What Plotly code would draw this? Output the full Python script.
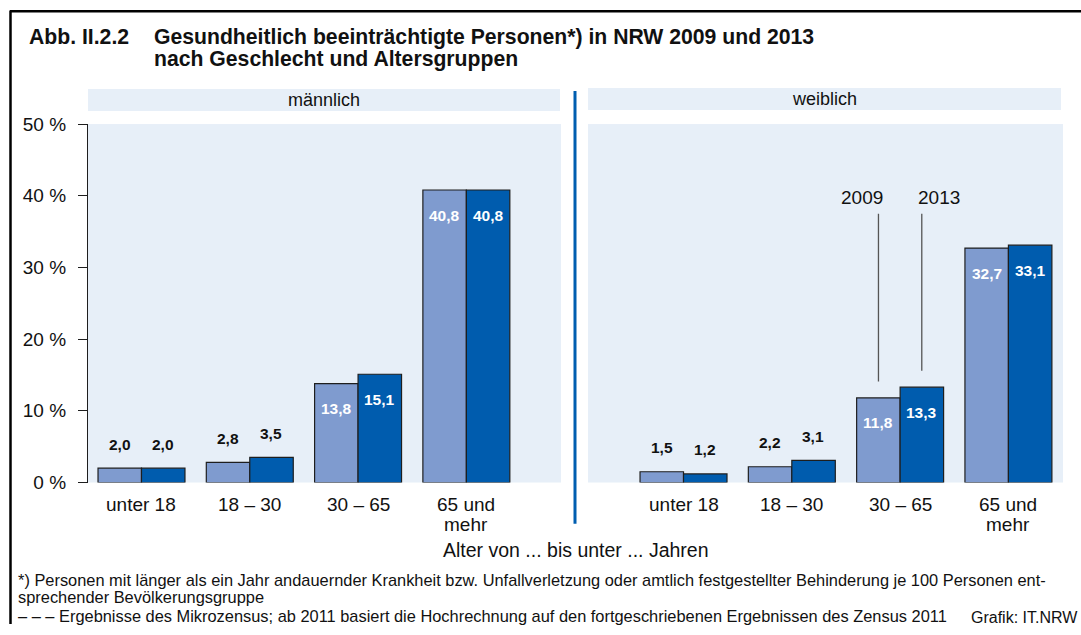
import plotly.graph_objects as go

# ---------------- data ----------------
categories = ["unter 18", "18 – 30", "30 – 65", "65 und<br>mehr"]
years = ["2009", "2013"]
male_2009 = [2.0, 2.8, 13.8, 40.8]
male_2013 = [2.0, 3.5, 15.1, 40.8]
female_2009 = [1.5, 2.2, 11.8, 32.7]
female_2013 = [1.2, 3.1, 13.3, 33.1]
y_ticks = [0, 10, 20, 30, 40, 50]
y_ticktext = ["0 %", "10 %", "20 %", "30 %", "40 %", "50 %"]
panel_titles = ["männlich", "weiblich"]

# ---------------- style ----------------
W, H = 1081, 635
FONT = "Liberation Sans, Arial, sans-serif"
C2009 = "#7f9bcf"
C2013 = "#005cae"
BG = "#e7eff8"
EDGE = "#1e1e1e"
TXT = "#111"

# the photographed figure occupies picture rows PIC_TOP .. PIC_TOP+PIC_H
PIC_TOP, PIC_H = 10.4, 611.5


def PX(x):
    return x / W


def PY(y):
    f = 1 - (y - PIC_TOP) / PIC_H
    return min(1.0, max(0.0, f))


fig = go.Figure()
xs = list(range(len(categories)))
panels = [("x", "y", male_2009, male_2013),
          ("x2", "y2", female_2009, female_2013)]

for (axx, axy, v09, v13) in panels:
    for yr, vals, col in [(years[0], v09, C2009), (years[1], v13, C2013)]:
        fig.add_trace(go.Bar(
            x=xs, y=vals, name=yr, xaxis=axx, yaxis=axy,
            offsetgroup=yr, showlegend=False,
            marker=dict(color=col, line=dict(color=EDGE, width=1.2)),
            hoverinfo="skip",
        ))

annotations = []
# value labels
for axx, axy, v09, v13 in panels:
    for off, vals in [(-0.2, v09), (0.2, v13)]:
        for i, v in enumerate(vals):
            inside = v >= 10
            annotations.append(dict(
                x=i + off, y=v, xref=axx, yref=axy,
                text="<b>" + f"{v:.1f}".replace(".", ",") + "</b>",
                showarrow=False, xanchor="center", yanchor="middle",
                yshift=-25 if inside else 24,
                font=dict(family=FONT, size=15.5,
                          color="white" if inside else TXT),
            ))

# category labels (one annotation per line for tight line spacing)
for axx, _, _, _ in panels:
    for i, lab in enumerate(categories):
        for k, line in enumerate(lab.split("<br>")):
            annotations.append(dict(
                x=i, y=PY(503 + 19.5 * k), xref=axx, yref="paper",
                text=line, showarrow=False, xanchor="center",
                yanchor="middle",
                font=dict(family=FONT, size=19, color=TXT)))

# year labels with leader lines (weiblich, 30 – 65)
shapes = []
for off, vals, xs_, yr in [(-0.2, female_2009, -16, years[0]),
                           (0.2, female_2013, 17, years[1])]:
    shapes.append(dict(type="line", xref="x2", yref="y2",
                       x0=2 + off, x1=2 + off,
                       y0=vals[2] + 2.3, y1=37.5,
                       line=dict(color="#555", width=1.3)))
    annotations.append(dict(x=2 + off, y=39.7, xref="x2", yref="y2",
                            text=yr, showarrow=False, xshift=xs_,
                            xanchor="center", yanchor="middle",
                            font=dict(family=FONT, size=19, color=TXT)))

# panel header strips
for (x0, x1, y0, y1, t) in [(88, 560, 89, 111, panel_titles[0]),
                            (588, 1061, 88, 110, panel_titles[1])]:
    shapes.append(dict(type="rect", xref="paper", yref="paper",
                       x0=PX(x0), x1=PX(x1), y0=PY(y1), y1=PY(y0),
                       fillcolor=BG, line=dict(width=0), layer="below"))
    annotations.append(dict(x=PX((x0 + x1) / 2), y=PY((y0 + y1) / 2),
                            xref="paper", yref="paper", text=t,
                            showarrow=False, xanchor="center",
                            yanchor="middle",
                            font=dict(family=FONT, size=18, color=TXT)))

# divider line
shapes.append(dict(type="line", xref="paper", yref="paper",
                   x0=PX(575), x1=PX(575), y0=PY(91), y1=PY(522),
                   line=dict(color="#005eb0", width=3)))
# frame (top and left)
shapes.append(dict(type="line", xref="paper", yref="paper",
                   x0=PX(10), x1=PX(1081), y0=PY(11.6), y1=PY(11.6),
                   line=dict(color="#000", width=2.5)))
shapes.append(dict(type="line", xref="paper", yref="paper",
                   x0=PX(10.5), x1=PX(10.5), y0=0, y1=PY(11),
                   line=dict(color="#000", width=2.5)))


def note(x, y, text, size, anchor="left", bold=False):
    return dict(x=PX(x), y=PY(y), xref="paper", yref="paper",
                text=f"<b>{text}</b>" if bold else text, showarrow=False,
                xanchor=anchor, yanchor="middle",
                font=dict(family=FONT, size=size, color=TXT))


annotations += [
    note(27, 37, "Abb. II.2.2", 21.2, bold=True),
    note(152, 37, "Gesundheitlich beeinträchtigte Personen*) in NRW 2009 und 2013", 21.2, bold=True),
    note(152, 59, "nach Geschlecht und Altersgruppen", 21.2, bold=True),
    note(576, 548, "Alter von ... bis unter ... Jahren", 19.5, anchor="center"),
    note(16, 578, "*) Personen mit länger als ein Jahr andauernder Krankheit bzw. Unfallverletzung oder amtlich festgestellter Behinderung je 100 Personen ent-", 16.4),
    note(16, 595.5, "sprechender Bevölkerungsgruppe", 16.4),
    note(16, 613.5, "– – – Ergebnisse des Mikrozensus; ab 2011 basiert die Hochrechnung auf den fortgeschriebenen Ergebnissen des Zensus 2011", 16.4),
    note(1080, 615.5, "Grafik: IT.NRW", 16, anchor="right"),
]

ydom = [PY(481), PY(124)]
xaxis_common = dict(tickvals=xs, showticklabels=False, ticks="",
                    showgrid=False, zeroline=False, showline=False,
                    fixedrange=True)
fig.update_layout(
    width=W, height=H, autosize=False,
    margin=dict(l=0, r=0, t=0, b=0),
    paper_bgcolor="white", plot_bgcolor=BG,
    barmode="group", bargap=0.197, bargroupgap=0,
    font=dict(family=FONT, color=TXT),
    xaxis=dict(domain=[PX(88), PX(561)],
               range=[-0.494, 3.874], anchor="y", **xaxis_common),
    xaxis2=dict(domain=[PX(588), PX(1063)],
                range=[-0.882, 3.504], anchor="y2", **xaxis_common),
    yaxis=dict(domain=ydom, range=[0, 50], anchor="x",
               tickvals=y_ticks, ticktext=y_ticktext, ticks="outside",
               ticklen=9, tickwidth=1.3, tickcolor=EDGE,
               showline=True, linecolor=EDGE, linewidth=1.3,
               showgrid=False, zeroline=False, ticklabelstandoff=8,
               tickfont=dict(family=FONT, size=19, color=TXT),
               fixedrange=True),
    yaxis2=dict(domain=ydom, range=[0, 50], anchor="x2",
                showticklabels=False, ticks="", showgrid=False,
                zeroline=False, showline=False, fixedrange=True),
    shapes=shapes, annotations=annotations,
)

post = ("var gd=document.getElementById('{plot_id}');"
        "document.documentElement.style.margin='0';"
        "document.body.style.margin='0';"
        "document.documentElement.style.overflow='hidden';"
        "document.body.style.overflow='hidden';"
        "gd.style.position='fixed';gd.style.left='0px';gd.style.top='0px';")

fig.write_html("out.html", config={"displayModeBar": False},
               post_script=post)
